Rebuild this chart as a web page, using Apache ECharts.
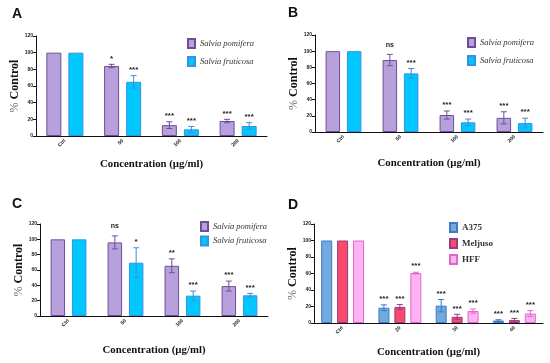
<!DOCTYPE html>
<html><head><meta charset="utf-8">
<script src="https://cdn.jsdelivr.net/npm/echarts@6/dist/echarts.min.js"></script>
<style>html,body{margin:0;padding:0;background:#fff}#c{width:550px;height:363px}</style>
</head><body><div id="c"></div>
<script>
// ---- data ----
const catsABC = ['Ctrl', '50', '100', '200'];
const catsD = ['Ctrl', '20', '30', '40'];

const A_pom = [100, 84, 13, 18];
const A_pomErr = [0, 2, 4, 2];
const A_pomSig = ['', '*', '***', '***'];
const A_fru = [100, 65, 8, 12];
const A_fruErr = [0, 7.5, 3.5, 4];
const A_fruSig = ['', '***', '***', '***'];

const B_pom = [100, 89, 21, 17.5];
const B_pomErr = [0, 7, 5, 7.5];
const B_pomSig = ['', 'ns', '***', '***'];
const B_fru = [100, 72.5, 12, 11];
const B_fruErr = [0, 6, 4, 6];
const B_fruSig = ['', '***', '***', '***'];

const C_pom = [100, 96, 65.5, 39];
const C_pomErr = [0, 8.5, 9, 6.5];
const C_pomSig = ['', 'ns', '**', '***'];
const C_fru = [100, 69.5, 26.5, 27];
const C_fruErr = [0, 19.5, 6, 2.5];
const C_fruSig = ['', '*', '***', '***'];

const D_a375 = [100, 18.5, 21, 3];
const D_a375Err = [0, 3.5, 7.5, 1];
const D_a375Sig = ['', '***', '***', '***'];
const D_mel = [100, 19.5, 7.5, 3.5];
const D_melErr = [0, 3, 3, 2];
const D_melSig = ['', '***', '***', '***'];
const D_hff = [100, 60.5, 14.5, 11.5];
const D_hffErr = [0, 1, 2.5, 3.5];
const D_hffSig = ['', '***', '***', '***'];

const yTicks = {min: 0, max: 120, interval: 20};

// ---- styles ----
const SERIF = '"Liberation Serif", "DejaVu Serif", serif';
const SANS = '"Liberation Sans", Arial, sans-serif';
const POM = {fill: '#b7a0dc', border: '#6e4f96'};
const FRU = {fill: '#00c8ff', border: '#3a8fe0'};
const A375 = {fill: '#72a9de', border: '#3b7cc4'};
const MEL = {fill: '#f74a6c', border: '#9a3a86'};
const HFF = {fill: '#ffb2f2', border: '#e066cc'};

const grids = [
  {left: 36, top: 36, width: 231, height: 100, nameGap: 23, bw: 15, gapPct: 0.47},
  {left: 315, top: 35, width: 228, height: 97, nameGap: 26, bw: 14.5, gapPct: 0.47},
  {left: 40, top: 224, width: 228, height: 92, nameGap: 29, bw: 14.5, gapPct: 0.47},
  {left: 314, top: 224, width: 229, height: 99, nameGap: 24, bw: 11, gapPct: 0.45}
];

const option = {
  animation: false,
  title: [
    {text: 'A', left: 7, top: 2},
    {text: 'B', left: 283, top: 1},
    {text: 'C', left: 7, top: 192},
    {text: 'D', left: 283, top: 193}
  ].map(t => Object.assign(t, {textStyle: {fontFamily: SANS, fontWeight: 'bold', fontSize: 14, color: '#111'}})),
  grid: grids.map(g => ({left: g.left, top: g.top, width: g.width, height: g.height})),
  xAxis: grids.map((g, i) => ({
    type: 'category', gridIndex: i, data: i === 3 ? catsD : catsABC,
    name: 'Concentration (µg/ml)', nameLocation: 'middle', nameGap: g.nameGap,
    nameTextStyle: {fontFamily: SERIF, fontWeight: 'bold', fontSize: 10.8, color: '#111'},
    axisLine: {lineStyle: {color: '#111', width: 1}},
    axisTick: {alignWithLabel: true, length: 3, lineStyle: {color: '#111'}},
    axisLabel: {rotate: 45, fontSize: 5, fontWeight: 'bold', color: '#222', margin: 4, fontFamily: SANS},
    splitLine: {show: false}
  })),
  yAxis: grids.map((g, i) => ({
    type: 'value', gridIndex: i, min: yTicks.min, max: yTicks.max, interval: yTicks.interval,
    name: '{p|%} Control', nameLocation: 'middle', nameGap: 9,
    nameTextStyle: {fontFamily: SERIF, fontWeight: 'bold', fontSize: 12, color: '#111',
      rich: {p: {fontFamily: SERIF, fontWeight: 'normal', fontSize: 12, color: '#666'}}},
    axisLine: {show: true, lineStyle: {color: '#111', width: 1}},
    axisTick: {show: true, length: 3, lineStyle: {color: '#111'}},
    axisLabel: {fontSize: 5, fontWeight: 'bold', color: '#222', margin: 3, fontFamily: SANS},
    splitLine: {show: false}
  })),
  legend: [
    {left: 187, top: 38, itemGap: 7, names: ['Salvia pomifera', 'Salvia fruticosa'], italic: true},
    {left: 467, top: 37, itemGap: 7, names: ['Salvia pomifera', 'Salvia fruticosa'], italic: true},
    {left: 200, top: 221, itemGap: 3.5, names: ['Salvia pomifera', 'Salvia fruticosa'], italic: true},
    {left: 449, top: 222, itemGap: 5, names: ['A375', 'Meljuso', 'HFF'], italic: false}
  ].map(l => ({
    left: l.left, top: l.top, orient: 'vertical', itemGap: l.itemGap, data: l.names, padding: 0,
    icon: 'rect', itemWidth: 7, itemHeight: 9, selectedMode: false,
    textStyle: {fontFamily: SERIF, fontStyle: l.italic ? 'italic' : 'normal',
      fontWeight: l.italic ? 'normal' : 'bold', fontSize: l.italic ? 8.5 : 9, color: '#333'}
  })),
  series: []
};

function addGroup(gi, list) {
  const g = grids[gi];
  const n = list.length;
  const step = g.bw * (1 + g.gapPct);
  list.forEach((s) => {
    option.series.push({
      type: 'bar', name: s.name, xAxisIndex: gi, yAxisIndex: gi, data: s.values,
      barWidth: g.bw, barGap: (g.gapPct * 100) + '%',
      itemStyle: {color: s.col.fill, borderColor: s.col.border, borderWidth: 1}
    });
  });
  list.forEach((s, k) => {
    const off = (k - (n - 1) / 2) * step;
    option.series.push({
      type: 'custom', name: s.name + ' err', xAxisIndex: gi, yAxisIndex: gi, z: 5,
      data: s.values.map((v, i) => [i, v, s.err[i]]),
      encode: {x: 0, y: 1},
      renderItem: function (params, api) {
        const i = api.value(0), v = api.value(1), e = api.value(2);
        const sig = s.sig[i];
        const c = api.coord([i, v]);
        const hi = api.coord([i, v + e]);
        const lo = api.coord([i, v - e]);
        const x = c[0] + off;
        const ch = [];
        if (e > 0) {
          const ls = {stroke: s.col.border, lineWidth: 1};
          ch.push({type: 'line', shape: {x1: x, y1: hi[1], x2: x, y2: lo[1]}, style: ls});
          ch.push({type: 'line', shape: {x1: x - 3, y1: hi[1], x2: x + 3, y2: hi[1]}, style: ls});
          ch.push({type: 'line', shape: {x1: x - 3, y1: lo[1], x2: x + 3, y2: lo[1]}, style: ls});
        }
        if (sig) {
          const isNs = sig === 'ns';
          ch.push({type: 'text', style: {text: sig, x: x, y: hi[1] - (isNs ? 6 : 2),
            textAlign: 'center', textVerticalAlign: 'bottom',
            font: 'bold ' + (isNs ? 7 : 8) + 'px ' + SANS, fill: '#222'}});
        }
        return {type: 'group', children: ch};
      }
    });
  });
}

addGroup(0, [
  {name: 'Salvia pomifera', values: A_pom, err: A_pomErr, sig: A_pomSig, col: POM},
  {name: 'Salvia fruticosa', values: A_fru, err: A_fruErr, sig: A_fruSig, col: FRU}
]);
addGroup(1, [
  {name: 'Salvia pomifera', values: B_pom, err: B_pomErr, sig: B_pomSig, col: POM},
  {name: 'Salvia fruticosa', values: B_fru, err: B_fruErr, sig: B_fruSig, col: FRU}
]);
addGroup(2, [
  {name: 'Salvia pomifera', values: C_pom, err: C_pomErr, sig: C_pomSig, col: POM},
  {name: 'Salvia fruticosa', values: C_fru, err: C_fruErr, sig: C_fruSig, col: FRU}
]);
addGroup(3, [
  {name: 'A375', values: D_a375, err: D_a375Err, sig: D_a375Sig, col: A375},
  {name: 'Meljuso', values: D_mel, err: D_melErr, sig: D_melSig, col: MEL},
  {name: 'HFF', values: D_hff, err: D_hffErr, sig: D_hffSig, col: HFF}
]);

const chart = echarts.init(document.getElementById('c'), null, {renderer: 'canvas'});
chart.setOption(option);
</script></body></html>
